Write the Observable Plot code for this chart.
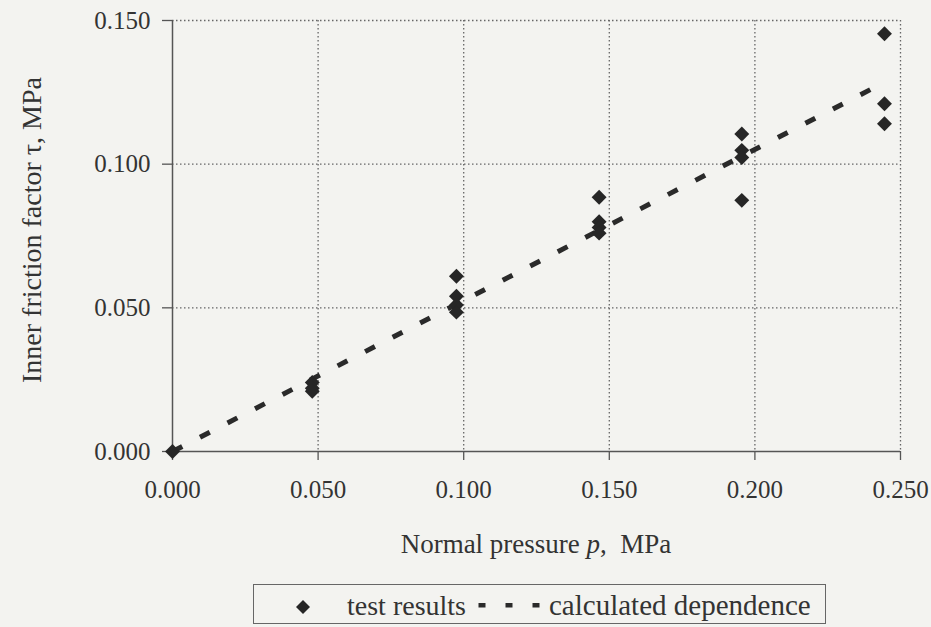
<!DOCTYPE html>
<html><head><meta charset="utf-8">
<script src="https://cdn.jsdelivr.net/npm/d3@7"></script>
<script src="https://cdn.jsdelivr.net/npm/@observablehq/plot@0.6"></script>
<style>
body{margin:0;background:#f3f3f0;font-family:'Liberation Serif',serif;color:#333;}
#wrap{position:relative;width:931px;height:627px;overflow:hidden;}
#chart{position:absolute;left:0;top:0;}
#legend{position:absolute;left:253px;top:584px;width:573px;height:40px;border:1.5px solid #666;box-sizing:border-box;}
#legend svg{position:absolute;left:0;top:0;}
</style></head><body><div id="wrap"><div id="chart"></div><div id="legend"></div></div>
<script>
// measured test results
const pressure = [0, 0.048, 0.048, 0.048, 0.0975, 0.0975, 0.0975, 0.0975, 0.1465, 0.1465, 0.1465, 0.1465, 0.1955, 0.1955, 0.1955, 0.1955, 0.2445, 0.2445, 0.2445];
const friction = [0, 0.024, 0.022, 0.021, 0.061, 0.054, 0.051, 0.0485, 0.0885, 0.080, 0.078, 0.076, 0.1105, 0.1048, 0.1023, 0.0874, 0.1454, 0.121, 0.1141];
// calculated dependence
const calcPressure = [0, 0.2445];
const calcFriction = [0, 0.1285];
const xTicks = [0, 0.05, 0.10, 0.15, 0.20, 0.25];
const yTicks = [0, 0.05, 0.10, 0.15];
const xTitle = ["Normal pressure ", "p", ",  MPa"];
const yTitle = "Inner friction factor τ, MPa";
const legendLabels = ["test results", "calculated dependence"];

const tests = pressure.map((p, i) => ({p, t: friction[i]}));
const calc = calcPressure.map((p, i) => ({p, t: calcFriction[i]}));

const squareDiamond = {draw(ctx, size) {
  const h = Math.sqrt(size / Math.PI) * 1.1;
  ctx.moveTo(0, -h); ctx.lineTo(h, 0); ctx.lineTo(0, h); ctx.lineTo(-h, 0); ctx.closePath();
}};

const ink = "#333";
const serif = "'Liberation Serif', 'Times New Roman', serif";
const chart = Plot.plot({
  width: 931, height: 570,
  marginLeft: 172, marginRight: 31, marginTop: 20, marginBottom: 119,
  style: {background: "transparent", fontFamily: serif, fontSize: "25px", color: ink},
  x: {domain: [0, 0.25]},
  y: {domain: [0, 0.15]},
  marks: [
    Plot.gridX(xTicks.filter(d => d > 0), {stroke: "#666", strokeOpacity: 1, strokeWidth: 1.3, strokeDasharray: "1.5,2.5"}),
    Plot.gridY(yTicks.filter(d => d > 0), {stroke: "#666", strokeOpacity: 1, strokeWidth: 1.3, strokeDasharray: "1.5,2.5"}),
    Plot.ruleX([0], {stroke: "#555", strokeWidth: 1.5}),
    Plot.ruleY([0], {stroke: "#555", strokeWidth: 1.5}),
    Plot.axisX(xTicks, {tickFormat: d => d.toFixed(3), tickSize: 9, tickPadding: 20, label: null, stroke: "#555", strokeWidth: 1.3, fill: ink, fontSize: 25, fontFamily: serif}),
    Plot.axisY(yTicks, {tickFormat: d => d.toFixed(3), tickSize: 10, tickPadding: 12, label: null, stroke: "#555", strokeWidth: 1.3, fill: ink, fontSize: 25, fontFamily: serif}),
    Plot.line(calc, {x: "p", y: "t", stroke: "#2a2a2a", strokeWidth: 5, strokeDasharray: "11,20", strokeLinecap: "butt"}),
    Plot.dot(tests, {x: "p", y: "t", r: 6.8, symbol: squareDiamond, fill: "#262626", stroke: "none"})
  ]
});
document.getElementById("chart").appendChild(chart);

const svg = d3.select(chart);
const xt = svg.append("text").attr("x", 536).attr("y", 553).attr("text-anchor", "middle")
  .attr("font-size", 27).attr("fill", ink).attr("font-family", serif);
xTitle.forEach((s, i) => xt.append("tspan").attr("font-style", i === 1 ? "italic" : "normal").attr("xml:space", "preserve").style("white-space", "pre").text(s));
svg.append("text").attr("transform", "translate(41,230) rotate(-90)").attr("text-anchor", "middle")
  .attr("font-size", 28).attr("fill", ink).attr("font-family", serif).text(yTitle);

// legend
const ls = d3.select("#legend").append("svg").attr("width", 573).attr("height", 40);
ls.append("path").attr("d", "M49,15 L56,22 L49,29 L42,22 Z").attr("fill", "#262626");
[228, 255, 282].forEach(x => ls.append("rect").attr("x", x - 3.5).attr("y", 18).attr("width", 7).attr("height", 4.5).attr("fill", "#2a2a2a"));
ls.append("text").attr("x", 93).attr("y", 30).attr("font-family", serif).attr("font-size", 28).attr("fill", ink).text(legendLabels[0]);
ls.append("text").attr("x", 295).attr("y", 30).attr("font-family", serif).attr("font-size", 29).attr("fill", ink).text(legendLabels[1]);
</script></body></html>
